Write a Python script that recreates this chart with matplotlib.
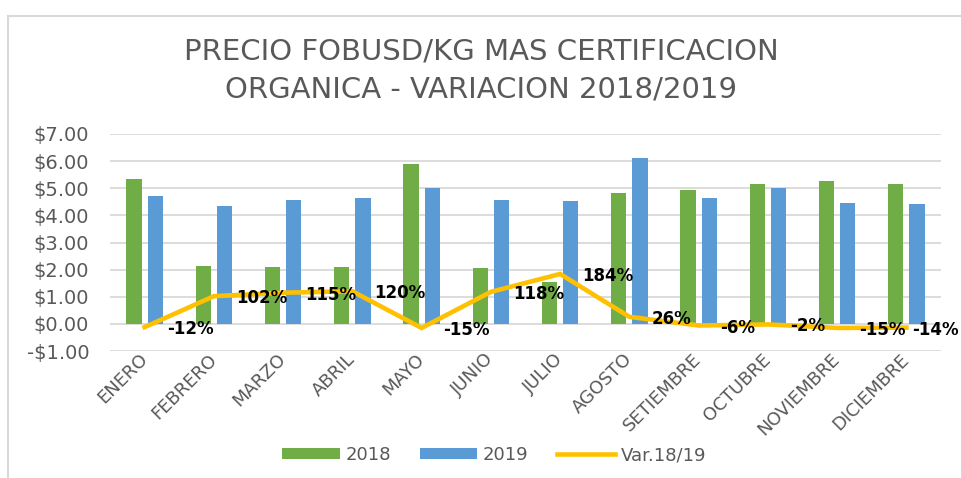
import numpy as np
import matplotlib
matplotlib.use("Agg")
from matplotlib import pyplot as plt
from matplotlib.lines import Line2D

meses = ["ENERO", "FEBRERO", "MARZO", "ABRIL", "MAYO", "JUNIO", "JULIO",
         "AGOSTO", "SETIEMBRE", "OCTUBRE", "NOVIEMBRE", "DICIEMBRE"]
precio_2018 = [5.33, 2.14, 2.10, 2.10, 5.88, 2.06, 1.55, 4.83, 4.95, 5.15, 5.26, 5.15]
precio_2019 = [4.72, 4.34, 4.57, 4.64, 5.02, 4.56, 4.52, 6.10, 4.63, 5.02, 4.45, 4.41]
variacion = [-0.12, 1.02, 1.15, 1.20, -0.15, 1.18, 1.84, 0.26, -0.06, -0.02, -0.15, -0.14]
etiquetas_var = ["-12%", "102%", "115%", "120%", "-15%", "118%", "184%",
                 "26%", "-6%", "-2%", "-15%", "-14%"]
y_ticks = [-1, 0, 1, 2, 3, 4, 5, 6, 7]

verde = "#70AD47"
azul = "#5B9BD5"
amarillo = "#FFC000"
gris = "#595959"

plt.rcParams["ytick.major.pad"] = 15
plt.rcParams["xtick.major.pad"] = 4

fig = plt.figure(figsize=(9.62, 4.78), dpi=100)
ax = fig.add_axes([110 / 962, 1 - 351 / 478, 831 / 962, 217 / 478])

x = np.arange(len(meses))
w = 0.22
ax.bar(x - 0.152, precio_2018, w, color=verde, zorder=2, label="2018")
ax.bar(x + 0.152, precio_2019, w, color=azul, zorder=2, label="2019")
ax.plot(x, variacion, color=amarillo, lw=3.3, zorder=3, label="Var.18/19",
        solid_joinstyle="miter")

for i, (xi, yi, txt) in enumerate(zip(x, variacion, etiquetas_var)):
    dx = 6 if i == len(x) - 1 else 22
    ax.annotate(txt, (xi, yi), xytext=(dx, -2), textcoords="offset pixels",
                ha="left", va="center", fontsize=12, fontweight="bold",
                color="black", clip_on=False, zorder=4)

ax.set_xlim(-0.5, len(meses) - 0.5)
ax.set_ylim(-1, 7)
ax.set_yticks(y_ticks)
ax.set_yticklabels([("-$%.2f" % -v) if v < 0 else ("$%.2f" % v) for v in y_ticks],
                   fontsize=14, color=gris)
ax.set_xticks(x)
ax.set_xticklabels(meses, rotation=45, ha="right", va="center",
                   rotation_mode="anchor", fontsize=13, color=gris)
ax.tick_params(axis="both", length=0)
ax.grid(axis="y", color="#d9d9d9", lw=1.3, zorder=0)
for s in ax.spines.values():
    s.set_visible(False)

fig.text(0.5, 1 - 52 / 478, "PRECIO FOBUSD/KG MAS CERTIFICACION", ha="center",
         va="center", fontsize=21, color=gris)
fig.text(0.5, 1 - 89 / 478, "ORGANICA - VARIACION 2018/2019", ha="center",
         va="center", fontsize=21, color=gris)

# borde del grafico
fig.add_artist(Line2D([8 / 962, 1], [1 - 16 / 478, 1 - 16 / 478],
                      color="#d9d9d9", lw=1.5))
fig.add_artist(Line2D([8 / 962, 8 / 962], [0, 1 - 16 / 478],
                      color="#d9d9d9", lw=1.5))

handles, labels = ax.get_legend_handles_labels()
order = [1, 2, 0]
leg = fig.legend([handles[i] for i in order], [labels[i] for i in order],
                 loc="center", bbox_to_anchor=(494 / 962, 1 - 455 / 478),
                 ncol=3, frameon=False, fontsize=13, handlelength=3.2,
                 handleheight=0.6, columnspacing=1.6, handletextpad=0.3)
for t in leg.get_texts():
    t.set_color(gris)

fig.savefig("out.png", dpi=100)
